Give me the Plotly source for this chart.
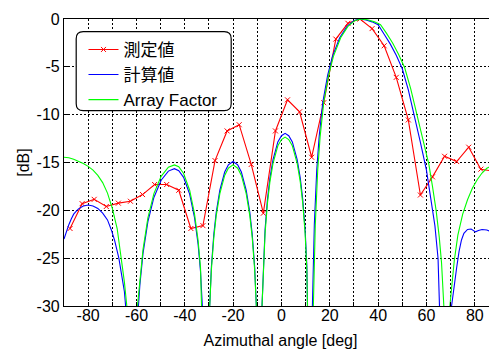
import plotly.graph_objects as go

# ---------------- data ----------------
meas_angle = [-87.5, -82.5, -77.5, -72.5, -67.5, -62.5, -57.5, -52.5, -47.5, -42.5,
              -37.5, -32.5, -27.5, -22.5, -17.5, -12.5, -7.5, -2.5, 2.5, 7.5,
              12.5, 17.5, 22.5, 27.5, 32.5, 37.5, 42.5, 47.5, 52.5, 57.5,
              62.5, 67.5, 72.5, 77.5, 82.5, 87.5, 92.5]
meas_db = [-21.9, -19.3, -18.85, -19.6, -19.25, -19.05, -18.35, -17.3, -17.3, -17.9,
           -21.9, -21.6, -14.8, -11.7, -11.05, -15.2, -20.3, -11.7, -8.45, -9.7,
           -14.45, -8.75, -2.1, -0.45, 0.0, -1.0, -2.8, -6.1, -10.55, -18.4,
           -16.5, -14.35, -14.9, -13.4, -15.7, -15.9, -18.6]

calc_angle = [-90, -89, -88, -87, -86, -85, -84, -82, -80, -78, -76, -74, -72, -70.4, -69,
              -67.3, -66, -65, -64.5, -62,
              -59.2, -58.6, -57.3, -55.3, -52.8, -49.8, -46.8, -44.3, -42.5, -40.5, -38, -36,
              -34.5, -33.5, -32.75, -31,
              -29.7, -29.0, -28.0, -27.0, -25.5, -23.5, -22.0, -20.05, -18.1, -16.6, -14.6,
              -13.1, -12.1, -11.1, -10.4, -9.1,
              -8.05, -7.55, -6.8, -5.8, -4.8, -3.5, -1.5, 0, 1.5, 3, 4.5, 6.5, 7.8, 8.8, 9.8,
              10.5, 11.0, 12.1,
              12.8, 13.6, 14.6, 15.6, 17.1, 19.1, 21.1, 24.1, 27.1, 30.1, 32.5, 35, 37.5, 40,
              42.5, 45, 47.5, 50, 52.5, 55, 57.5, 60, 62, 63.5, 64.8, 65.85, 67.8,
              70.4, 71.3, 72.5, 73.5, 74.5, 75.5, 77, 78.5, 79.5, 80.3, 81.5, 83, 85, 86.5,
              88, 89.2, 90]
calc_db = [-23.0, -22.2, -21.5, -20.9, -20.4, -20.1, -19.85, -19.55, -19.45, -19.55, -19.8,
           -20.3, -21.0, -22.05, -23.2, -25.0, -26.8, -28.5, -30, -50,
           -30, -27.8, -24.5, -21.2, -18.65, -16.85, -15.9, -15.65, -15.85, -16.55, -18.3,
           -20.75, -23.55, -26.4, -30, -50,
           -30, -25.9, -22.5, -20.2, -17.9, -16.0, -15.25, -14.9, -15.25, -16.0, -17.9,
           -20.2, -22.5, -25.9, -30, -50,
           -30, -25.8, -22.05, -18.85, -16.65, -14.7, -12.85, -12.2, -11.95, -12.2, -12.85,
           -14.7, -16.65, -18.85, -22.05, -25.8, -30, -50,
           -30, -21.5, -15.8, -12.3, -8.7, -5.9, -3.9, -1.96, -0.77, -0.15, 0.0, -0.1, -0.3,
           -0.6, -1.6, -2.6, -3.8, -5.2, -7.4, -10.0, -12.9, -15.8, -18.9, -21.6, -25.0,
           -30, -50,
           -30, -28.0, -26.0, -24.3, -23.1, -22.4, -22.0, -21.95, -22.1, -22.25, -22.1,
           -22.0, -22.05, -22.2, -22.45, -22.8, -23.0]

af_angle = [-90, -88, -86, -84, -82, -80, -78, -76, -74, -72, -70, -68, -67, -66, -65,
            -64, -62,
            -59.6, -58.6, -57.3, -55.3, -52.8, -49.8, -46.8, -44.3, -42.5, -40.5, -38, -36,
            -34.5, -33.5, -32.9, -31,
            -29.7, -29.0, -28.0, -27.0, -25.5, -23.5, -22.0, -20.05, -18.1, -16.6, -14.6,
            -13.1, -12.1, -11.1, -10.4, -9.1,
            -8.05, -7.55, -6.8, -5.8, -4.8, -3.5, -1.5, 0, 1.5, 3, 4.5, 6.5, 7.8, 8.8, 9.8,
            10.5, 11.0, 12.1,
            13.2, 14.0, 15.0, 16.0, 17.5, 19.5, 21.5, 24.5, 27.5, 30.5, 33.3, 36, 38.5, 41,
            43.5, 46, 48.5, 51, 53.5, 56, 58.5, 61, 62.5, 64, 65.3, 66.25, 67.2, 68.5,
            69.7, 70.5, 71.5, 73, 75, 77, 79, 81, 83, 85, 87, 89.2, 90]
af_db = [-14.45, -14.5, -14.65, -14.85, -15.1, -15.4, -15.8, -16.35, -17.1, -18.2, -19.8,
         -21.9, -23.8, -25.7, -27.5, -30, -50,
         -30, -27.3, -24.1, -20.8, -18.25, -16.45, -15.5, -15.25, -15.45, -16.15, -17.9,
         -20.35, -23.15, -26.0, -30, -50,
         -30, -26.2, -22.85, -20.55, -18.25, -16.35, -15.6, -15.25, -15.6, -16.35, -18.25,
         -20.55, -22.85, -26.2, -30, -50,
         -30, -26.2, -22.45, -19.25, -17.05, -15.1, -13.25, -12.6, -12.35, -12.6, -13.25,
         -15.1, -17.05, -19.25, -22.45, -26.2, -30, -50,
         -30, -21.5, -15.8, -12.3, -8.7, -5.9, -3.9, -1.96, -0.77, -0.15, 0.0, -0.1, -0.3,
         -0.6, -1.5, -2.5, -3.7, -5.1, -7.3, -9.9, -12.8, -15.2, -17.5, -20.0, -22.8,
         -25.5, -30, -50,
         -30, -27.5, -25.3, -22.6, -20.4, -18.9, -17.7, -16.8, -16.1, -15.6, -15.35,
         -15.2, -15.15]

x_tick_vals = [-80, -70, -60, -50, -40, -30, -20, -10, 0, 10, 20, 30, 40, 50, 60, 70, 80]
x_tick_text = ["-80", "", "-60", "", "-40", "", "-20", "", "0", "", "20", "", "40", "",
               "60", "", "80"]
y_tick_vals = [0, -5, -10, -15, -20, -25, -30]
y_tick_text = ["0", "-5", "-10", "-15", "-20", "-25", "-30"]

series_names = ["測定値", "計算値", "Array Factor"]

# ---------------- figure ----------------
FONT = "Liberation Sans, Arial, Noto Sans CJK JP, sans-serif"

fig = go.Figure()
fig.add_trace(go.Scatter(
    x=meas_angle, y=meas_db, name=series_names[0], mode="lines+markers",
    line=dict(color="#ff0000", width=1.1),
    marker=dict(symbol="x-thin", size=5, line=dict(color="#ff0000", width=1)),
))
fig.add_trace(go.Scatter(
    x=calc_angle, y=calc_db, name=series_names[1], mode="lines",
    line=dict(color="#0000ff", width=1.1),
))
fig.add_trace(go.Scatter(
    x=af_angle, y=af_db, name=series_names[2], mode="lines",
    line=dict(color="#00ff00", width=1.1),
))

# rounded legend box (paper coords; plot area is 433 x 287 px)
PW, PH = 433.0, 287.0
lx0, lx1 = 12.2 / PW, 167.2 / PW
ly1, ly0 = 1 - 12.7 / PH, 1 - 91.7 / PH
rx, ry = 7 / PW, 7 / PH
path = (f"M {lx0+rx},{ly1} L {lx1-rx},{ly1} Q {lx1},{ly1} {lx1},{ly1-ry} "
        f"L {lx1},{ly0+ry} Q {lx1},{ly0} {lx1-rx},{ly0} L {lx0+rx},{ly0} "
        f"Q {lx0},{ly0} {lx0},{ly0+ry} L {lx0},{ly1-ry} Q {lx0},{ly1} {lx0+rx},{ly1} Z")
fig.add_shape(type="path", path=path, xref="paper", yref="paper",
              line=dict(color="black", width=1.2), fillcolor="white", layer="above")

axis_common = dict(
    showline=True, linecolor="black", linewidth=1.2,
    ticks="inside", ticklen=4, tickcolor="black", tickwidth=1,
    showgrid=True, gridcolor="black", gridwidth=1, griddash="2px,2px",
    zeroline=False, tickfont=dict(family=FONT, size=16, color="black"),
)

# page body has an 8px margin, so the figure is sized to fill the rest
fig.update_layout(
    width=489, height=344,
    margin=dict(l=56, r=0, t=11, b=46),
    paper_bgcolor="white", plot_bgcolor="white",
    font=dict(family=FONT, size=16, color="black"),
    showlegend=True,
    legend=dict(
        x=0.045, y=0.955, xanchor="left", yanchor="top",
        bgcolor="rgba(0,0,0,0)", borderwidth=0,
        font=dict(family=FONT, size=17, color="black"),
        traceorder="normal",
    ),
    xaxis=dict(
        range=[-90, 89.2], tickvals=x_tick_vals, ticktext=x_tick_text,
        mirror=True, ticklabelstandoff=-5,
        title=dict(text="Azimuthal angle [deg]", font=dict(family=FONT, size=16), standoff=11),
        **axis_common,
    ),
    yaxis=dict(
        range=[-30, 0], tickvals=y_tick_vals, ticktext=y_tick_text,
        title=dict(text="[dB]", font=dict(family=FONT, size=16), standoff=2),
        **axis_common,
    ),
)

fig.write_html("out.html")
